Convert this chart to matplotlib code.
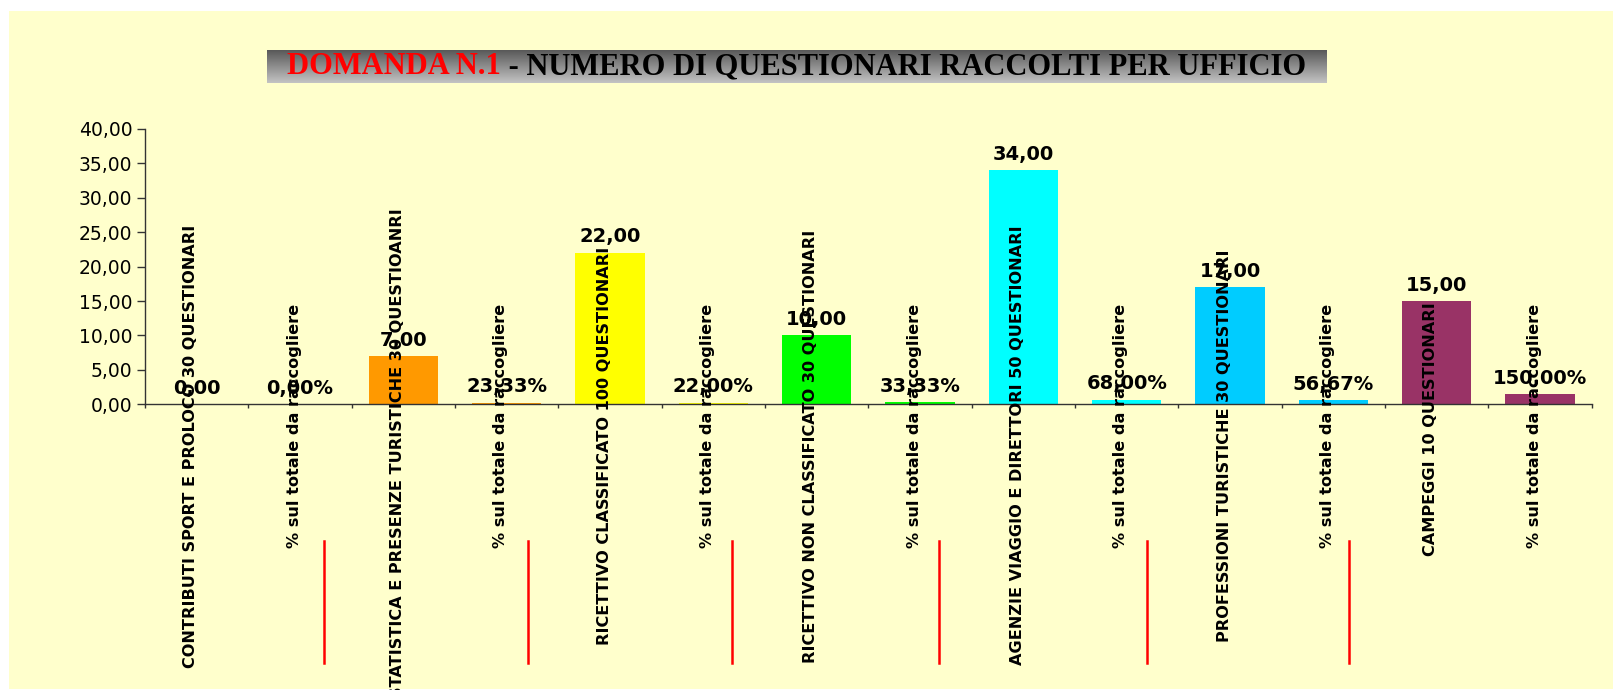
import numpy as np
import matplotlib
matplotlib.use("Agg")
import matplotlib.pyplot as plt
from matplotlib.patches import Rectangle
from matplotlib.lines import Line2D
from matplotlib.colors import LinearSegmentedColormap
import matplotlib.transforms as mtransforms

# ---------------- data ----------------
categories = [
    "CONTRIBUTI SPORT E PROLOCO 30 QUESTIONARI",
    "% sul totale da raccogliere",
    "STATISTICA E PRESENZE TURISTICHE 30 QUESTIOANRI",
    "% sul totale da raccogliere",
    "RICETTIVO CLASSIFICATO 100 QUESTIONARI",
    "% sul totale da raccogliere",
    "RICETTIVO NON CLASSIFICATO 30 QUESTIONARI",
    "% sul totale da raccogliere",
    "AGENZIE VIAGGIO E DIRETTORI 50 QUESTIONARI",
    "% sul totale da raccogliere",
    "PROFESSIONI TURISTICHE 30 QUESTIONARI",
    "% sul totale da raccogliere",
    "CAMPEGGI 10 QUESTIONARI",
    "% sul totale da raccogliere",
]
values = [0.00, 0.0000, 7.00, 0.2333, 22.00, 0.2200, 10.00, 0.3333,
          34.00, 0.6800, 17.00, 0.5667, 15.00, 1.5000]
is_percent = [False, True] * 7
bar_colors = ["#9999FF", "#9999FF", "#FF9900", "#FF9900", "#FFFF00", "#FFFF00",
              "#00FF00", "#00FF00", "#00FFFF", "#00FFFF", "#00CCFF", "#00CCFF",
              "#993366", "#993366"]
yticks = [0, 5, 10, 15, 20, 25, 30, 35, 40]
title_red = "DOMANDA N.1"
title_black = " - NUMERO DI QUESTIONARI RACCOLTI PER UFFICIO"

# ---------------- layout (pixels of the 1613x690 canvas) ----------------
W, H = 1613, 690
ax_left, ax_right, ax_top, ax_bottom = 145, 1591.7, 129, 404.3
label_top_px = [225, 304, 208.3, 304, 246.7, 304, 229.3, 304, 225, 304, 250, 304, 302.7, 304]
red_line_x = [1.233, 3.204, 5.176, 7.186, 9.196, 11.151]
red_line_px = (540.7, 662.7)

fig = plt.figure(figsize=(W / 100, H / 100), dpi=100, facecolor="white")

# yellow chart area background
fig.patches.append(Rectangle((9 / W, 1 / H), 1 - 9 / W, (H - 12) / H,
                             transform=fig.transFigure, facecolor="#FFFFCC",
                             edgecolor="none", zorder=-10))

ax = fig.add_axes([ax_left / W, (H - ax_bottom) / H,
                   (ax_right - ax_left) / W, (ax_bottom - ax_top) / H])
ax.set_facecolor("none")

x = np.arange(len(values))
ax.bar(x, values, width=0.67, color=bar_colors, linewidth=0, zorder=2)

ax.set_xlim(-0.5, len(values) - 0.5)
ax.set_ylim(0, 40)
ax.set_yticks(yticks)
ax.set_yticklabels([f"{v:.2f}".replace(".", ",") for v in yticks],
                   fontsize=13.5, family="DejaVu Sans")
ax.set_xticks(np.arange(len(values) + 1) - 0.5)
ax.set_xticklabels([])
for s in ("top", "right"):
    ax.spines[s].set_visible(False)
for s in ("left", "bottom"):
    ax.spines[s].set_color("#333333")
    ax.spines[s].set_linewidth(1.0)
ax.tick_params(axis="y", length=6, width=1, color="#333333", pad=3)
ax.tick_params(axis="x", length=3, width=1, color="#333333")

# value labels
for i, (v, p) in enumerate(zip(values, is_percent)):
    txt = (f"{v * 100:.2f}%" if p else f"{v:.2f}").replace(".", ",")
    ax.annotate(txt, xy=(i, v), xytext=(0, 11.5), textcoords="offset points",
                ha="center", va="center", fontsize=14, fontweight="bold",
                family="DejaVu Sans", zorder=3)

# rotated category labels
offset = mtransforms.ScaledTranslation(-6 / 100, 0, fig.dpi_scale_trans)
trans = ax.get_xaxis_transform() + offset
axh = ax_bottom - ax_top
for i, (lab, top) in enumerate(zip(categories, label_top_px)):
    ax.text(i, (ax_bottom - top) / axh, lab, rotation=90, ha="center", va="top",
            fontsize=11.6, fontweight="bold", family="DejaVu Sans",
            transform=trans, clip_on=False, zorder=5)

# red separator marks
for rx in red_line_x:
    ax.add_line(Line2D([rx, rx], [(ax_bottom - red_line_px[0]) / axh,
                                  (ax_bottom - red_line_px[1]) / axh],
                       transform=ax.get_xaxis_transform(), color="#FF0000",
                       linewidth=1.8, clip_on=False, zorder=4))

# title box with vertical gradient
tax = fig.add_axes([267 / W, (H - 83.5) / H, (1327 - 267) / W, 33.5 / H])
grad = np.linspace(0, 1, 256).reshape(-1, 1)
cmap = LinearSegmentedColormap.from_list("g", ["#555555", "#C4C4C4"])
tax.imshow(grad, aspect="auto", cmap=cmap, extent=[0, 1, 0, 1], origin="upper")
tax.set_xlim(0, 1)
tax.set_ylim(0, 1)
tax.axis("off")

t1 = tax.text(0, 0.5, title_red, color="#FF0000", fontsize=22, fontweight="bold",
              family="Liberation Serif", va="center", ha="left",
              transform=tax.transAxes)
t2 = tax.annotate(title_black, xy=(1, 0), xycoords=t1, va="bottom", ha="left",
                  color="black", fontsize=22, fontweight="bold",
                  family="Liberation Serif")
fig.canvas.draw()
r = fig.canvas.get_renderer()
w_total = t1.get_window_extent(r).width + t2.get_window_extent(r).width
box_w = tax.get_window_extent(r).width
t1.set_x((box_w - w_total) / 2 / box_w)

fig.savefig("out.png", dpi=100, facecolor="white")
